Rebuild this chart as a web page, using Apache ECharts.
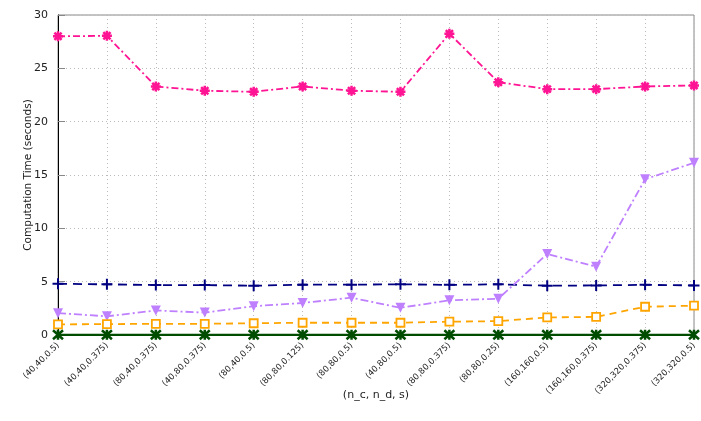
<!DOCTYPE html>
<html><head><meta charset="utf-8">
<script src="https://cdn.jsdelivr.net/npm/echarts@6/dist/echarts.min.js"></script>
<style>html,body{margin:0;padding:0;background:#fff}#c{width:701px;height:421px}</style>
</head><body><div id="c"></div>
<script>
const categories = ['(40,40,0.5)','(40,40,0.375)','(80,40,0.375)','(40,80,0.375)','(80,40,0.5)','(80,80,0.125)','(80,80,0.5)','(40,80,0.5)','(80,80,0.375)','(80,80,0.25)','(160,160,0.5)','(160,160,0.375)','(320,320,0.375)','(320,320,0.5)'];
const pinkValues = [28.0, 28.05, 23.3, 22.9, 22.8, 23.3, 22.9, 22.8, 28.25, 23.7, 23.05, 23.05, 23.3, 23.4];
const blueValues = [4.8, 4.75, 4.68, 4.68, 4.62, 4.72, 4.72, 4.75, 4.7, 4.75, 4.62, 4.65, 4.7, 4.65];
const purpleValues = [2.05, 1.75, 2.3, 2.1, 2.7, 3.0, 3.5, 2.55, 3.25, 3.4, 7.6, 6.4, 14.6, 16.15];
const orangeValues = [1.0, 1.02, 1.05, 1.05, 1.1, 1.15, 1.15, 1.15, 1.25, 1.3, 1.65, 1.7, 2.65, 2.75];
const greenValues = [0.02, 0.02, 0.02, 0.02, 0.02, 0.02, 0.02, 0.02, 0.02, 0.02, 0.02, 0.02, 0.02, 0.02];
const yTicks = [0, 5, 10, 15, 20, 25, 30];

const plusPath = 'path://M0,-5L0,5M-5,0L5,0';
const asterPath = 'path://M0,-5L0,5M-5,0L5,0M-3.6,-3.6L3.6,3.6M-3.6,3.6L3.6,-3.6';
const xPath = 'path://M-3.6,-3.6L3.6,3.6M-3.6,3.6L3.6,-3.6M0,-4L0,4';

function mk(name, data, color, type, width, symbol, size, sStyle) {
  return {
    name, type: 'line', data, symbol, symbolSize: size, showSymbol: true,
    lineStyle: { color, width, type },
    itemStyle: Object.assign({ color, borderColor: color, borderWidth: 2 }, sStyle || {}),
    animation: false, z: 3
  };
}

const chart = echarts.init(document.getElementById('c'));
chart.setOption({
  animation: false,
  grid: { left: 58, right: 7, top: 15, bottom: 86, show: true, borderColor: '#888', borderWidth: 1, backgroundColor: 'transparent' },
  xAxis: {
    type: 'category', data: categories, boundaryGap: false,
    name: '(n_c, n_d, s)', nameLocation: 'middle', nameGap: 55, nameMoveOverlap: false,
    nameTextStyle: { fontFamily: 'DejaVu Sans', fontSize: 11, color: '#222' },
    axisLine: { lineStyle: { color: '#000', width: 1 } },
    axisTick: { show: false },
    axisLabel: { rotate: 45, fontFamily: 'DejaVu Sans', fontSize: 8.5, color: '#222', margin: 9, interval: 0 },
    splitLine: { show: true, lineStyle: { color: '#bbb', type: [1, 3], width: 1 } }
  },
  yAxis: {
    type: 'value', min: yTicks[0], max: yTicks[yTicks.length-1], interval: 5,
    name: 'Computation Time (seconds)', nameLocation: 'middle', nameGap: 24, nameMoveOverlap: false,
    nameTextStyle: { fontFamily: 'DejaVu Sans', fontSize: 10.5, color: '#222' },
    axisLine: { show: true, lineStyle: { color: '#000', width: 1 } },
    axisTick: { show: true, inside: true, length: 7, lineStyle: { color: '#888' } },
    axisLabel: { fontFamily: 'DejaVu Sans', fontSize: 11, color: '#222', margin: 10 },
    splitLine: { show: true, lineStyle: { color: '#bbb', type: [1, 3], width: 1 } }
  },
  series: [
    mk('pink', pinkValues, '#ff1493', [7, 3, 2, 3], 1.8, asterPath, 10, { borderWidth: 2.5 }),
    mk('blue', blueValues, '#000080', [9, 6], 1.8, plusPath, 11),
    mk('purple', purpleValues, '#bf80ff', [8, 3, 2, 3], 1.8, 'triangle', 10, { borderWidth: 0 }),
    mk('orange', orangeValues, '#ffa500', [7, 5], 1.8, 'rect', 8, { color: '#fff', borderColor: '#ffa500', borderWidth: 1.8 }),
    mk('green', greenValues, '#004d00', 'solid', 2.2, xPath, 10, { borderWidth: 2.5 })
  ]
});
chart.setOption({ series: [{}, {}, { symbolRotate: 180 }, {}, {}] });
</script></body></html>
